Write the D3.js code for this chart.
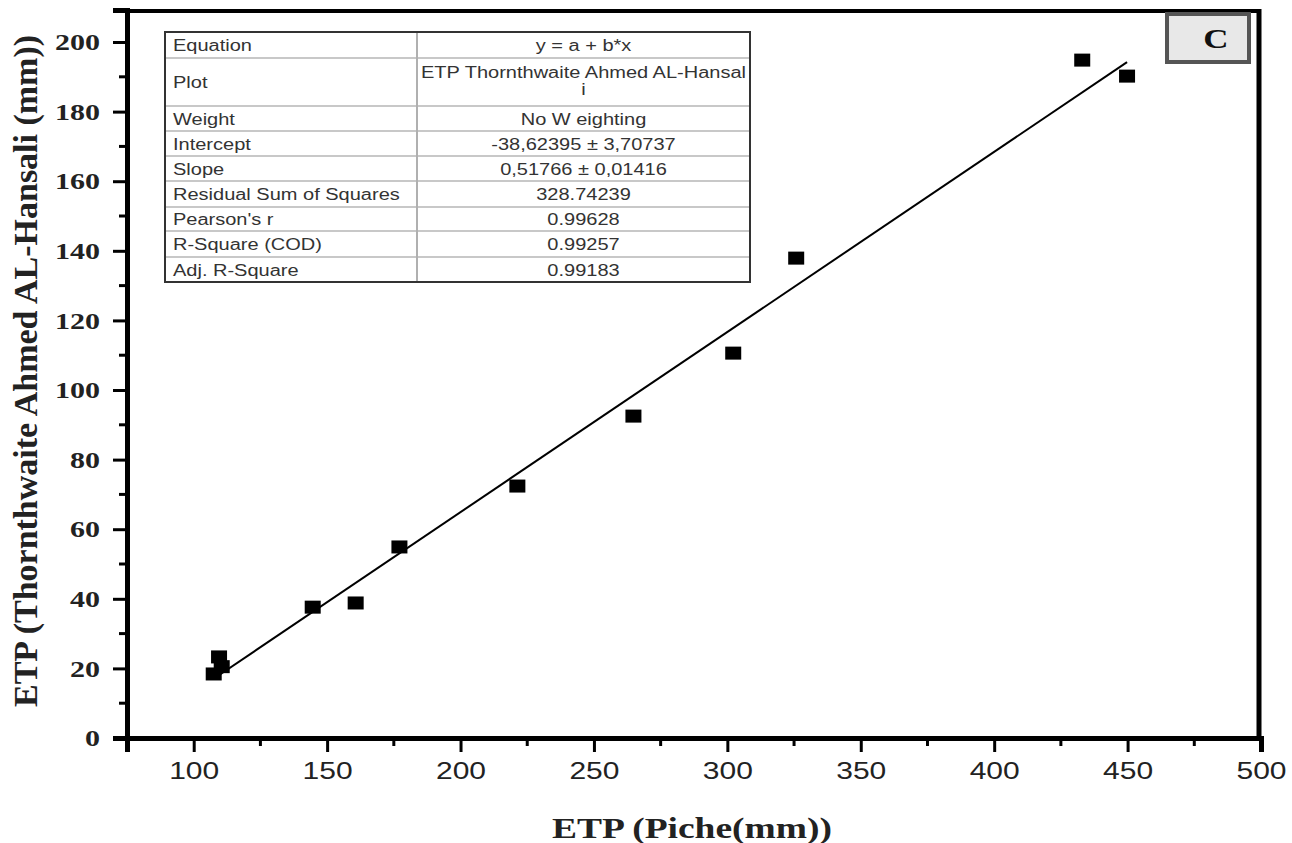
<!DOCTYPE html>
<html>
<head>
<meta charset="utf-8">
<script src="https://cdn.jsdelivr.net/npm/d3@7"></script>
<style>
  body { margin: 0; background: #fff; }
  svg { display: block; }
</style>
</head>
<body>
<div id="chart"></div>
<script>
// data
var pichePts = [107.5, 109.5, 110.5, 144.6, 160.7, 177.1, 221.3, 264.8, 302.2, 325.8, 433, 449.8];
var thornPts = [18.4, 23.3, 20.5, 37.6, 38.8, 54.9, 72.4, 92.5, 110.6, 137.9, 194.8, 190.2];
var xTicks = [100, 150, 200, 250, 300, 350, 400, 450, 500];
var yTicks = [0, 20, 40, 60, 80, 100, 120, 140, 160, 180, 200];
var intercept = -38.62395, slope = 0.51766;
var tableRows = [
  ["Equation", "y = a + b*x"],
  ["Plot", "ETP Thornthwaite Ahmed AL-Hansal|i"],
  ["Weight", "No W eighting"],
  ["Intercept", "-38,62395 \u00b1 3,70737"],
  ["Slope", "0,51766 \u00b1 0,01416"],
  ["Residual Sum of Squares", "328.74239"],
  ["Pearson's r", "0.99628"],
  ["R-Square (COD)", "0.99257"],
  ["Adj. R-Square", "0.99183"]
];
var rowH = [26, 48, 25, 25, 25, 26, 24, 26, 25];

var W = 1292, H = 843;
var sx = 1.25; // the picture is stretched sideways
var serif = "'Liberation Serif', 'Times New Roman', serif",
    sans = "'Liberation Sans', Arial, sans-serif";
var svg = d3.select("#chart").append("svg").attr("width", W).attr("height", H);

var x = d3.scaleLinear().domain([75, 500]).range([127, 1261]);
var y = d3.scaleLinear().domain([0, 209.2]).range([738, 10]);

// frame top & right
svg.append("line").attr("x1", 125).attr("x2", 1261).attr("y1", 11).attr("y2", 11)
  .attr("stroke", "#000").attr("stroke-width", 4);
svg.append("line").attr("x1", 1259).attr("x2", 1259).attr("y1", 9).attr("y2", 740)
  .attr("stroke", "#000").attr("stroke-width", 5);

// minor ticks
svg.selectAll(".ymin").data(d3.range(10, 210, 20)).enter().append("line")
  .attr("x1", 119).attr("x2", 127).attr("y1", function(d) { return y(d); }).attr("y2", function(d) { return y(d); })
  .attr("stroke", "#000").attr("stroke-width", 3);
svg.selectAll(".xmin").data(d3.range(75, 500, 50)).enter().append("line")
  .attr("y1", 738).attr("y2", 746).attr("x1", function(d) { return x(d); }).attr("x2", function(d) { return x(d); })
  .attr("stroke", "#000").attr("stroke-width", 3);

// axes
var yAxis = svg.append("g").attr("transform", "translate(127,0)")
  .call(d3.axisLeft(y).tickValues(yTicks).tickSize(14).tickPadding(13));
yAxis.select(".domain").attr("stroke-width", 5);
yAxis.selectAll(".tick line").attr("stroke-width", 3);
yAxis.selectAll("text").attr("font-family", serif)
  .attr("font-weight", "bold").attr("font-size", 24).attr("fill", "#222")
  .attr("x", -27 / sx).attr("transform", "scale(" + sx + ",1)");

var xAxis = svg.append("g").attr("transform", "translate(0,738)")
  .call(d3.axisBottom(x).tickValues(xTicks).tickSize(14).tickPadding(10));
xAxis.select(".domain").attr("stroke-width", 5);
xAxis.selectAll(".tick line").attr("stroke-width", 3);
xAxis.selectAll("text").attr("font-family", sans)
  .attr("font-size", 24).attr("fill", "#222").attr("transform", "scale(" + sx + ",1)");

// titles
svg.append("text").attr("transform", "translate(692,838) scale(" + sx + ",1)").attr("text-anchor", "middle")
  .attr("font-family", serif).attr("font-weight", "bold")
  .attr("font-size", 30).attr("fill", "#222").text("ETP (Piche(mm))");
svg.append("text").attr("transform", "translate(37,371) scale(" + sx + ",1) rotate(-90)").attr("text-anchor", "middle")
  .attr("font-family", serif).attr("font-weight", "bold")
  .attr("font-size", 27).attr("fill", "#222")
  .attr("textLength", 672).attr("lengthAdjust", "spacingAndGlyphs")
  .text("ETP (Thornthwaite Ahmed AL-Hansali (mm))");

// fit line
var x0 = d3.min(pichePts), x1 = d3.max(pichePts);
svg.append("line")
  .attr("x1", x(x0)).attr("y1", y(intercept + slope * x0))
  .attr("x2", x(x1)).attr("y2", y(intercept + slope * x1))
  .attr("stroke", "#000").attr("stroke-width", 2);

// points
svg.selectAll(".pt").data(pichePts).enter().append("rect")
  .attr("x", function(d) { return x(d) - 8; })
  .attr("y", function(d, i) { return y(thornPts[i]) - 6.5; })
  .attr("width", 16).attr("height", 13).attr("fill", "#000");

// stats table
var tx = 165, tw = 585, c1 = 252, ty = 32;
var tbl = svg.append("g");
var acc = ty;
function cell(px, py, anchor, s) {
  tbl.append("text").attr("transform", "translate(" + px + "," + py + ") scale(" + sx + ",1)")
    .attr("text-anchor", anchor)
    .attr("font-family", sans).attr("font-size", 16).attr("fill", "#333")
    .text(s);
}
tableRows.forEach(function(r, i) {
  var h = rowH[i];
  var midY = acc + h / 2;
  cell(tx + 8, midY + 6, "start", r[0]);
  var parts = r[1].split("|");
  parts.forEach(function(p, j) {
    var yy = parts.length > 1 ? acc + 20 + j * 17 : midY + 6;
    cell(tx + c1 + (tw - c1) / 2, yy, "middle", p);
  });
  acc += h;
  if (i < tableRows.length - 1) {
    tbl.append("line").attr("x1", tx).attr("x2", tx + tw).attr("y1", acc).attr("y2", acc)
      .attr("stroke", "#c8c8c8").attr("stroke-width", 2);
  }
});
tbl.append("line").attr("x1", tx + c1).attr("x2", tx + c1).attr("y1", ty).attr("y2", acc)
  .attr("stroke", "#b0b0b0").attr("stroke-width", 2);
tbl.append("rect").attr("x", tx).attr("y", ty).attr("width", tw).attr("height", acc - ty)
  .attr("fill", "none").attr("stroke", "#333").attr("stroke-width", 2);

// panel label
svg.append("rect").attr("x", 1167).attr("y", 14).attr("width", 82).attr("height", 48)
  .attr("fill", "#e8e8e8").attr("stroke", "#555").attr("stroke-width", 4);
svg.append("text").attr("transform", "translate(1216,48) scale(" + sx + ",1)").attr("text-anchor", "middle")
  .attr("font-family", serif).attr("font-weight", "bold")
  .attr("font-size", 28).attr("fill", "#111").text("C");
</script>
</body>
</html>
